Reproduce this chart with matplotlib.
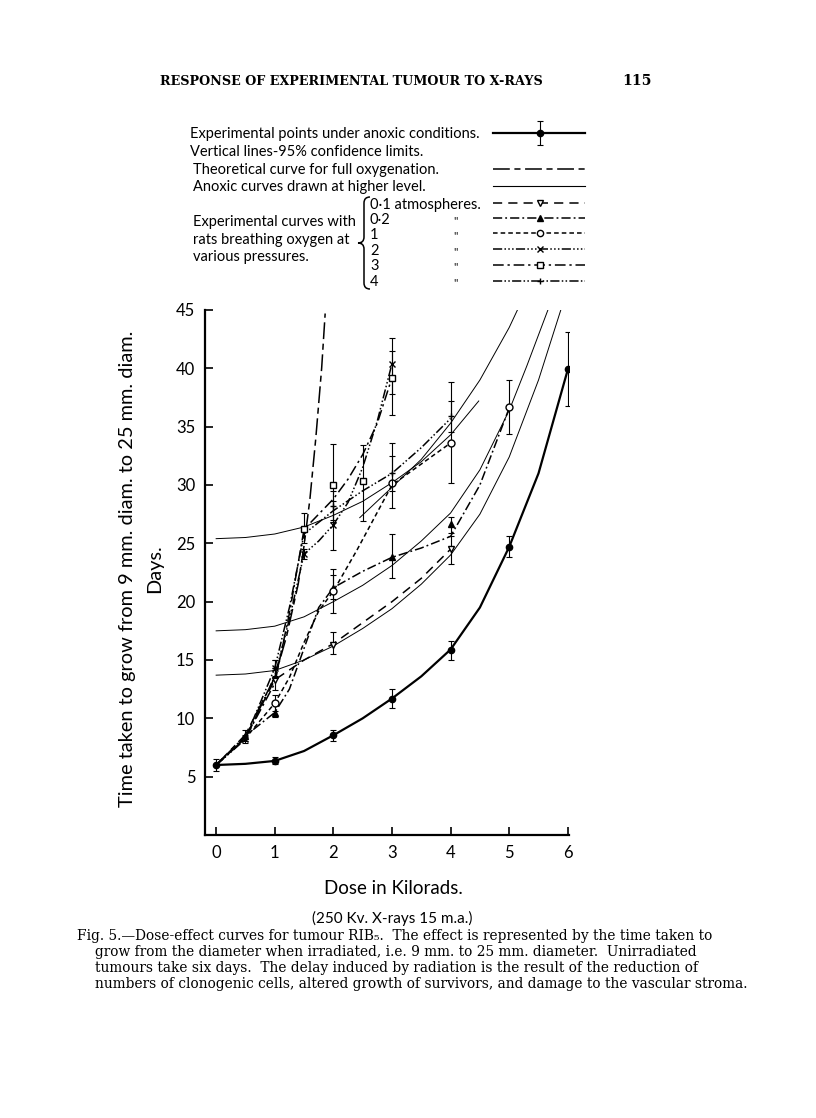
import matplotlib
matplotlib.use('Agg')
import matplotlib.pyplot as plt
from matplotlib.path import Path
from matplotlib.patches import PathPatch

# ---- experimental points (mean, 95% limits) ----
anox_x = [0, 1, 2, 3, 4, 5, 6]
anox_y = [6.0, 6.35, 8.55, 11.7, 15.9, 24.7, 39.9]
anox_lo = [5.5, 6.1, 8.1, 10.9, 15.0, 23.8, 36.8]
anox_hi = [6.5, 6.7, 9.0, 12.5, 16.6, 25.6, 43.1]

p01_x = [1, 2, 4]
p01_y = [13.3, 16.3, 24.5]
p01_lo = [12.4, 15.5, 23.2]
p01_hi = [14.3, 17.4, 25.6]

p02_x = [0.5, 1, 2, 3, 4]
p02_y = [8.5, 10.5, 21.2, 23.8, 26.7]
p02_lo = [8.1, 10.1, 20.2, 22.0, 25.9]
p02_hi = [9.0, 11.2, 22.8, 25.8, 27.3]

p1_x = [1, 2, 3, 4, 5]
p1_y = [11.3, 20.9, 30.2, 33.6, 36.7]
p1_lo = [10.6, 19.0, 28.0, 30.2, 34.4]
p1_hi = [12.0, 22.3, 33.6, 38.8, 39.0]

p2_x = [0.5, 1, 1.5, 2, 3]
p2_y = [8.2, 14.3, 24.1, 26.6, 40.4]
p2_lo = [7.9, 13.6, 23.7, 24.4, 37.8]
p2_hi = [8.6, 15.0, 24.5, 28.6, 42.6]

p3_x = [1.5, 2, 2.5, 3]
p3_y = [26.2, 30.0, 30.3, 39.2]
p3_lo = [25.0, 26.8, 26.9, 36.0]
p3_hi = [27.6, 33.5, 33.4, 41.5]

p4_x = [1, 2, 3, 4]
p4_y = [14.3, 28.2, 31.0, 35.9]
p4_lo = [13.5, 27.0, 29.5, 34.5]
p4_hi = [15.0, 29.5, 32.5, 37.2]

# ---- drawn curves ----
anox_cx = [0, 0.5, 1, 1.5, 2, 2.5, 3, 3.5, 4, 4.5, 5, 5.5, 6]
anox_cy = [6.0, 6.1, 6.35, 7.2, 8.55, 10.0, 11.7, 13.6, 15.9, 19.5, 24.7, 31.0, 39.9]

# anoxic curves drawn at higher level (thin)
hiA_x = [0, 0.5, 1, 1.5, 2, 2.5, 3, 3.5, 4, 4.5, 5, 5.5, 5.88]
hiA_y = [13.7, 13.8, 14.1, 15.0, 16.2, 17.7, 19.4, 21.5, 24.0, 27.5, 32.4, 39.0, 45.0]
hiB_x = [0, 0.5, 1, 1.5, 2, 2.5, 3, 3.5, 4, 4.5, 5, 5.3, 5.66]
hiB_y = [17.5, 17.6, 17.9, 18.7, 20.0, 21.4, 23.1, 25.2, 27.6, 31.3, 36.4, 40.2, 45.0]
hiC_x = [0, 0.5, 1, 1.5, 2, 2.5, 3, 3.5, 4, 4.48]
hiC_y = [25.4, 25.5, 25.8, 26.4, 27.4, 28.6, 30.2, 32.0, 34.3, 37.2]
hiD_x = [2.45, 3, 3.5, 4, 4.5, 5, 5.14]
hiD_y = [27.2, 29.8, 32.2, 35.3, 39.0, 43.5, 45.0]

theo_x = [0, 0.5, 1, 1.2, 1.4, 1.5, 1.6, 1.7, 1.8, 1.86]
theo_y = [6, 8.6, 13.5, 17, 21.5, 24.8, 28.8, 34, 40, 44.7]

c01_x = [0, 0.5, 1, 1.5, 2, 2.5, 3, 3.5, 4]
c01_y = [6, 8.4, 13.3, 15.0, 16.4, 18.2, 20.0, 22.0, 24.5]
c02_x = [0, 0.5, 1, 1.25, 1.5, 1.75, 2, 2.5, 3, 3.5, 4, 4.5, 5]
c02_y = [6, 8.5, 10.5, 12.5, 16, 19.5, 21.2, 22.6, 23.8, 24.6, 25.6, 30.0, 36.6]
c1_x = [0, 0.5, 1, 1.25, 1.5, 1.75, 2, 2.4, 3, 3.5, 4]
c1_y = [6, 8.3, 11.3, 13.5, 16.5, 19.2, 20.9, 24.4, 30.0, 31.8, 33.6]
c2_x = [0, 0.5, 1, 1.25, 1.5, 1.75, 2, 2.25, 2.5, 2.75, 3]
c2_y = [6, 8.2, 13.6, 18.5, 24.1, 25.2, 26.6, 28.5, 31.5, 35.5, 40.4]
c3_x = [0, 0.5, 1, 1.25, 1.5, 1.75, 2, 2.25, 2.5, 2.75, 3]
c3_y = [6, 8.3, 13.0, 19.0, 26.2, 27.5, 28.8, 30.5, 32.6, 35.3, 39.2]
c4_x = [0, 0.5, 1, 1.25, 1.5, 2, 2.5, 3, 3.5, 4]
c4_y = [6, 8.3, 14.3, 19.5, 25.8, 27.8, 29.5, 31.0, 33.2, 35.7]

xticks = [0, 1, 2, 3, 4, 5, 6]
yticks = [5, 10, 15, 20, 25, 30, 35, 40, 45]

legend_rows = ["Experimental points under anoxic conditions.",
               "Vertical lines-95% confidence limits.",
               "Theoretical curve for full oxygenation.",
               "Anoxic curves drawn at higher level."]
pressures = ["0·1 atmospheres.", "0·2", "1", "2", "3", "4"]
curve_text = ["Experimental curves with", "rats breathing oxygen at", "various pressures."]
caption = ["Fig. 5.\u2014Dose-effect curves for tumour RIB\u2085.  The effect is represented by the time taken to",
           "grow from the diameter when irradiated, i.e. 9 mm. to 25 mm. diameter.  Unirradiated",
           "tumours take six days.  The delay induced by radiation is the result of the reduction of",
           "numbers of clonogenic cells, altered growth of survivors, and damage to the vascular stroma."]

SANS = ['Lato', 'DejaVu Sans']
SERIF = ['DejaVu Serif']

styles = {
    'theo': dict(dashes=(11, 3, 4, 3), lw=1.1),
    'p01': dict(dashes=(6, 4), lw=1.1, marker='v', mfc='white'),
    'p02': dict(dashes=(6, 2, 1.2, 2), lw=1.1, marker='^', mfc='k'),
    'p1': dict(dashes=(3, 2), lw=1.1, marker='o', mfc='white'),
    'p2': dict(dashes=(6, 1.5, 1, 1.5, 1, 1.5, 1, 1.5), lw=1.1, marker='x', mfc='k'),
    'p3': dict(dashes=(7, 2.5, 1.5, 2.5), lw=1.1, marker='s', mfc='white'),
    'p4': dict(dashes=(6, 1.5, 1, 1.5, 1, 1.5), lw=1.1, marker='+', mfc='k'),
}

fig = plt.figure(figsize=(8.16, 11.18), dpi=100)
ax = fig.add_axes([205/816, 1-835/1118, 364/816, 525/1118])
ax.set_xlim(-0.19, 6.02)
ax.set_ylim(0, 45)
for s in ['top', 'right']:
    ax.spines[s].set_visible(False)
ax.spines['left'].set_linewidth(1.6)
ax.spines['bottom'].set_linewidth(1.6)
ax.tick_params(direction='in', length=6, width=1.2, labelsize=12, pad=7)
ax.set_xticks(xticks)
ax.set_yticks(yticks)
for lab in ax.get_xticklabels() + ax.get_yticklabels():
    lab.set_family(SANS)

# thin anoxic curves
for cx, cy in [(hiA_x, hiA_y), (hiB_x, hiB_y), (hiC_x, hiC_y), (hiD_x, hiD_y)]:
    ax.plot(cx, cy, color='k', lw=0.7)

ax.plot(theo_x, theo_y, color='k', lw=1.1, dashes=styles['theo']['dashes'])
for key, cx, cy in [('p01', c01_x, c01_y), ('p02', c02_x, c02_y), ('p1', c1_x, c1_y),
                    ('p2', c2_x, c2_y), ('p3', c3_x, c3_y), ('p4', c4_x, c4_y)]:
    ax.plot(cx, cy, color='k', lw=styles[key]['lw'], dashes=styles[key]['dashes'])

ax.plot(anox_cx, anox_cy, color='k', lw=1.6)

def points(x, y, lo, hi, marker, mfc, ms=5):
    err = [[m - l for m, l in zip(y, lo)], [h - m for m, h in zip(y, hi)]]
    ax.errorbar(x, y, yerr=err, fmt='none', ecolor='k', elinewidth=0.8, capsize=2.5, capthick=0.8)
    ax.plot(x, y, ls='none', marker=marker, mfc=mfc, mec='k', mew=1.0, ms=ms, color='k')

points(anox_x, anox_y, anox_lo, anox_hi, 'o', 'k', 4.5)
points(p01_x, p01_y, p01_lo, p01_hi, 'v', 'white')
points(p02_x, p02_y, p02_lo, p02_hi, '^', 'k')
points(p1_x, p1_y, p1_lo, p1_hi, 'o', 'white')
points(p2_x, p2_y, p2_lo, p2_hi, 'x', 'k')
points(p3_x, p3_y, p3_lo, p3_hi, 's', 'white')
points(p4_x, p4_y, p4_lo, p4_hi, '+', 'k')

# ---- overlay in pixel coordinates ----
ov = fig.add_axes([0, 0, 1, 1], zorder=-1)
ov.set_xlim(0, 816)
ov.set_ylim(1118, 0)
ov.axis('off')
r = fig.canvas.get_renderer()

def fit_size(s, width, **kw):
    t = ov.text(0, 0, s, fontsize=10, **kw)
    w = t.get_window_extent(r).width
    t.remove()
    return 10 * width / w

# header
hs = fit_size("RESPONSE OF EXPERIMENTAL TUMOUR TO X-RAYS", 382, family=SERIF, weight='bold')
ov.text(160, 85, "RESPONSE OF EXPERIMENTAL TUMOUR TO X-RAYS", family=SERIF, weight='bold',
        fontsize=hs, va='baseline')
ov.text(652, 85, "115", family=SERIF, weight='bold', fontsize=hs*1.1, ha='right', va='baseline')

# legend
ls_ = fit_size(legend_rows[0], 288, family=SANS)
for txt, xx, yy in zip(legend_rows, [190, 190, 193, 193], [138, 156, 174, 191]):
    ov.text(xx, yy, txt, family=SANS, fontsize=ls_, va='baseline')
for txt, yy in zip(pressures, [209, 224, 239, 255, 270, 286]):
    ov.text(370, yy, txt, family=SANS, fontsize=ls_, va='baseline')
for yy in [224, 239, 255, 270, 286]:
    ov.text(453, yy, '"', family=SANS, fontsize=ls_*0.8, va='baseline')
for txt, yy in zip(curve_text, [226, 244, 261]):
    ov.text(193, yy, txt, family=SANS, fontsize=ls_, va='baseline')

# brace
bx, b0, b1, bw = 364, 197, 289, 6
bm = (b0 + b1) / 2
verts = [(bx + bw, b0), (bx, b0), (bx, b0 + bw), (bx, bm - bw), (bx, bm), (bx - bw, bm),
         (bx, bm), (bx, bm + bw), (bx, b1 - bw), (bx, b1), (bx + bw, b1)]
codes = [Path.MOVETO, Path.CURVE3, Path.CURVE3, Path.LINETO, Path.CURVE3, Path.CURVE3,
         Path.CURVE3, Path.CURVE3, Path.LINETO, Path.CURVE3, Path.CURVE3]
ov.add_patch(PathPatch(Path(verts, codes), fill=False, lw=1.1, color='k'))

# legend samples
lx0, lx1, lxm = 493, 585, 540
ov.plot([lx0, lx1], [133, 133], color='k', lw=1.6)
ov.errorbar([lxm], [133], yerr=[[12], [12]], fmt='o', color='k', ms=4.5, elinewidth=0.8,
            capsize=2.5, capthick=0.8)
ov.plot([lx0, lx1], [169, 169], color='k', lw=1.1, dashes=styles['theo']['dashes'])
ov.plot([lx0, lx1], [186, 186], color='k', lw=0.8)
for key, yy in zip(['p01', 'p02', 'p1', 'p2', 'p3', 'p4'], [203, 218, 233, 249, 265, 281]):
    st = styles[key]
    ov.plot([lx0, lx1], [yy, yy], color='k', lw=st['lw'], dashes=st['dashes'])
    ov.plot([lxm], [yy], ls='none', marker=st['marker'], mfc=st['mfc'], mec='k', ms=4.5, mew=1.0)

# axis labels
ov.text(393, 894, "Dose in Kilorads.", family=SANS, fontsize=13.5, ha='center', va='baseline')
ov.text(392, 923, "(250 Kv. X-rays 15 m.a.)", family=SANS, fontsize=11, ha='center', va='baseline')
ys = fit_size("Time taken to grow from 9 mm. diam. to 25 mm. diam.", 478, family=SANS)
ov.text(127, 569, "Time taken to grow from 9 mm. diam. to 25 mm. diam.", family=SANS,
        fontsize=ys, rotation=90, ha='center', va='center')
ov.text(155, 569, "Days.", family=SANS, fontsize=ys, rotation=90, ha='center', va='center')

# caption, one common size
cstarts = [77, 95, 95, 95]
cs = min(fit_size(line, 752 - x0, family=SERIF) for line, x0 in zip(caption, cstarts))
for line, x0, yy in zip(caption, cstarts, [940, 956, 972, 988]):
    ov.text(x0, yy, line, family=SERIF, fontsize=cs, va='baseline')

fig.savefig('out.png', dpi=100)
